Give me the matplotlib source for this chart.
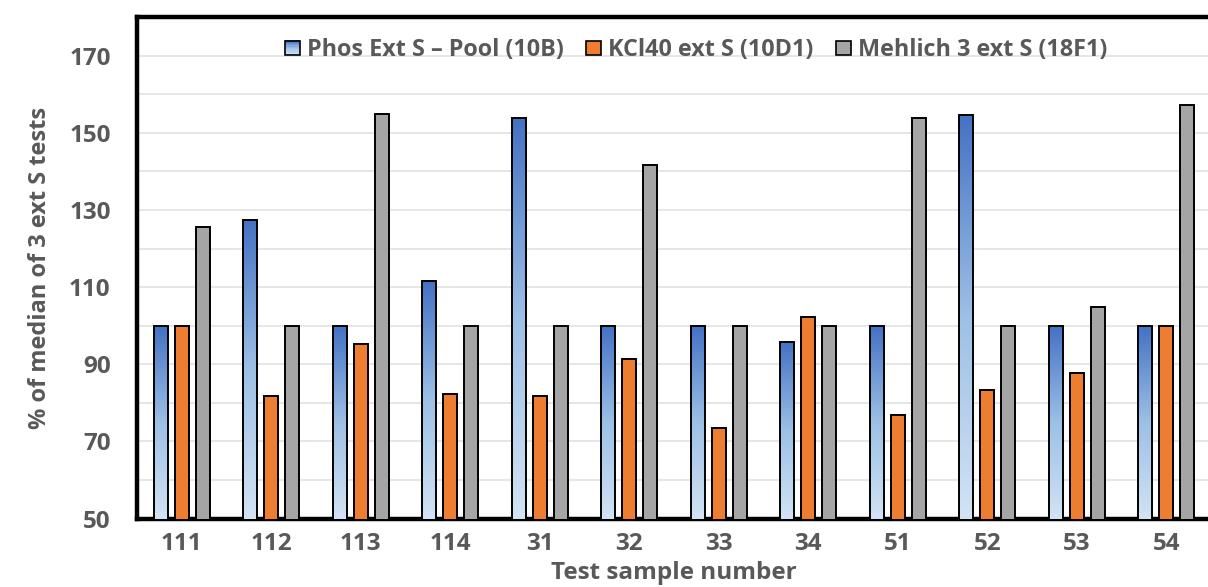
import matplotlib
matplotlib.use("Agg")
import matplotlib.pyplot as plt
import numpy as np
from matplotlib.colors import LinearSegmentedColormap
from matplotlib.legend_handler import HandlerBase
from matplotlib.patches import Rectangle, Patch

categories = ["111", "112", "113", "114", "31", "32", "33", "34", "51", "52", "53", "54"]
phos = [100, 127.4, 100, 111.6, 153.9, 100, 100, 95.8, 100, 154.5, 100, 100]
kcl = [100, 81.7, 95.2, 82.3, 81.8, 91.3, 73.5, 102.3, 76.8, 83.3, 87.8, 100]
mehlich = [125.7, 100, 154.9, 100, 100, 141.6, 100, 100, 153.8, 100, 104.8, 157.3]
series_names = ["Phos Ext S – Pool (10B)", "KCl40 ext S (10D1)", "Mehlich 3 ext S (18F1)"]
yticks = [50, 70, 90, 110, 130, 150, 170]

TXT = "#595959"
FONT = "Open Sans"
plt.rcParams['font.family'] = [FONT, 'DejaVu Sans']

blue_cmap = LinearSegmentedColormap.from_list("bg", ["#D2E3F4", "#9DC0E6", "#4472C4"])

W, H = 1208, 587
fig = plt.figure(figsize=(W / 100, H / 100), dpi=100)
ax = fig.add_axes([137 / W, 1 - 518.6 / H, 1074 / W, (518.6 - 17) / H])

x = np.arange(len(categories))
bw = 0.155
off = 0.235
ymin, ymax = 50, 180

blue_bars = ax.bar(x - off, phos, bw, color='none', edgecolor='black', linewidth=1.4, zorder=4)
ax.bar(x, kcl, bw, color='#ED7D31', edgecolor='black', linewidth=1.4, zorder=4)
ax.bar(x + off, mehlich, bw, color='#A5A5A5', edgecolor='black', linewidth=1.4, zorder=4)

grad = np.linspace(0, 1, 256).reshape(-1, 1)
for b in blue_bars:
    x0 = b.get_x()
    x1 = x0 + b.get_width()
    top = b.get_height()
    im = ax.imshow(grad, extent=[x0, x1, ymin, top], origin='lower', aspect='auto',
                   cmap=blue_cmap, zorder=3, interpolation='bicubic')
    clip = Rectangle((x0, ymin), x1 - x0, top - ymin, transform=ax.transData)
    im.set_clip_path(clip)

ax.set_xlim(-0.5, len(categories) - 0.5)
ax.set_ylim(ymin, ymax)
ax.set_aspect('auto')

ax.set_yticks(yticks)
ax.set_yticks(np.arange(60, 181, 20), minor=True)
ax.yaxis.grid(True, which='both', color='#E2E2E2', linewidth=1.2, zorder=0)
ax.set_axisbelow(True)
ax.set_xticks(x)
ax.set_xticklabels(categories)
ax.tick_params(axis='both', which='both', length=0, labelsize=17.5, labelcolor=TXT)
ax.tick_params(axis='x', pad=10)
ax.tick_params(axis='y', pad=19)
for lab in ax.get_xticklabels() + ax.get_yticklabels():
    lab.set_fontweight('bold')

for s in ['left', 'top', 'bottom']:
    ax.spines[s].set_linewidth(3.2)
    ax.spines[s].set_color('black')
ax.spines['right'].set_visible(False)

ax.set_ylabel("% of median of 3 ext S tests", fontsize=17, fontweight='bold', color=TXT, labelpad=12)
ax.set_xlabel("Test sample number", fontsize=17.5, fontweight='bold', color=TXT, labelpad=3)


class GradHandler(HandlerBase):
    def create_artists(self, legend, orig_handle, xdescent, ydescent, width, height, fontsize, trans):
        arts = []
        n = 12
        side = height * 0.9
        x0 = -xdescent + (width - side) / 2
        y0 = -ydescent + (height - side) / 2
        for i in range(n):
            c = blue_cmap(i / (n - 1))
            arts.append(Rectangle((x0, y0 + side * i / n), side, side / n + 0.3,
                                  facecolor=c, edgecolor='none', transform=trans))
        arts.append(Rectangle((x0, y0), side, side, facecolor='none', edgecolor='black',
                              linewidth=1.2, transform=trans))
        return arts


class SquareHandler(HandlerBase):
    def create_artists(self, legend, orig_handle, xdescent, ydescent, width, height, fontsize, trans):
        side = height * 0.9
        x0 = -xdescent + (width - side) / 2
        y0 = -ydescent + (height - side) / 2
        return [Rectangle((x0, y0), side, side, facecolor=orig_handle.get_facecolor(),
                          edgecolor='black', linewidth=1.2, transform=trans)]


h1 = Patch(facecolor='#8FB0DF')
h2 = Patch(facecolor='#ED7D31')
h3 = Patch(facecolor='#A5A5A5')
leg = ax.legend([h1, h2, h3], series_names, loc='center', bbox_to_anchor=(0.52, 0.934),
                ncol=3, frameon=False, handler_map={h1: GradHandler(), h2: SquareHandler(), h3: SquareHandler()},
                handlelength=0.75, handletextpad=0.25, columnspacing=0.9,
                prop={'family': FONT, 'weight': 'bold', 'size': 16.8})
for t in leg.get_texts():
    t.set_color(TXT)

fig.savefig("out.png", dpi=100)
